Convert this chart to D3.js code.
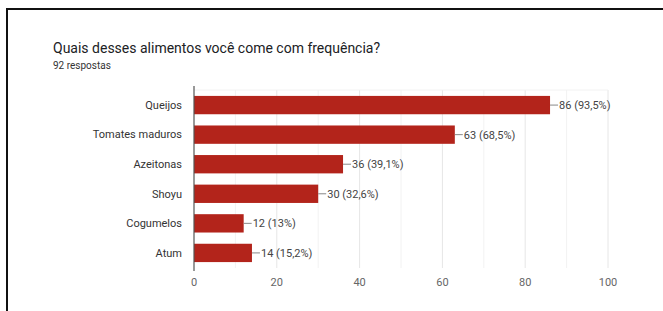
<!DOCTYPE html>
<html>
<head>
<meta charset="utf-8">
<script src="https://cdn.jsdelivr.net/npm/d3@7"></script>
<style>
  body { margin: 0; background: #fff; }
  text { font-family: Roboto, "Noto Sans", sans-serif; }
</style>
</head>
<body>
<div id="chart"></div>
<script>
const width = 663;
const height = 311;

const categories = ["Queijos", "Tomates maduros", "Azeitonas", "Shoyu", "Cogumelos", "Atum"];
const counts = [86, 63, 36, 30, 12, 14];
const percents = ["93,5%", "68,5%", "39,1%", "32,6%", "13%", "15,2%"];
const xTicks = [0, 20, 40, 60, 80, 100];

const margin = { top: 90, right: 55, bottom: 43, left: 194 };

const svg = d3
  .select("#chart")
  .append("svg")
  .attr("width", width)
  .attr("height", height);

// frame (cropped screenshot border)
svg.append("path")
  .attr("d", `M7,${height} L7,9 L${width},9`)
  .attr("fill", "none")
  .attr("stroke", "#111")
  .attr("stroke-width", 2);

// title
svg.append("text")
  .attr("x", 53)
  .attr("y", 53)
  .style("font-size", "14px")
  .attr("fill", "#202124")
  .text("Quais desses alimentos você come com frequência?");

svg.append("text")
  .attr("x", 53)
  .attr("y", 69)
  .style("font-size", "10px")
  .attr("fill", "#333")
  .text("92 respostas");

const x = d3.scaleLinear()
  .domain([0, 100])
  .range([margin.left, width - margin.right]);

const y = d3.scaleBand()
  .domain(categories)
  .range([margin.top, height - margin.bottom])
  .paddingInner(0.38)
  .paddingOuter(0.2);

// gridlines (major + minor)
svg.append("g")
  .selectAll("line")
  .data(d3.range(10, 101, 10))
  .enter()
  .append("line")
  .attr("x1", (d) => x(d))
  .attr("x2", (d) => x(d))
  .attr("y1", margin.top)
  .attr("y2", height - margin.bottom)
  .attr("stroke", (d) => (d % 20 === 0 ? "#e6e6e6" : "#f2f2f2"))
  .attr("stroke-width", 1);

svg.append("line")
  .attr("x1", margin.left)
  .attr("x2", width - margin.right)
  .attr("y1", margin.top)
  .attr("y2", margin.top)
  .attr("stroke", "#f2f2f2");

// bars
const data = categories.map((c, i) => ({ cat: c, value: counts[i], pct: percents[i] }));

svg.append("g")
  .selectAll("rect")
  .data(data)
  .enter()
  .append("rect")
  .attr("x", x(0))
  .attr("y", (d) => y(d.cat))
  .attr("width", (d) => x(d.value) - x(0))
  .attr("height", y.bandwidth())
  .attr("fill", "#b3241b");

// value labels with connector
const lbl = svg.append("g")
  .selectAll("g")
  .data(data)
  .enter()
  .append("g")
  .attr("transform", (d) => `translate(${x(d.value)},${y(d.cat) + y.bandwidth() / 2})`);

lbl.append("line")
  .attr("x1", 0)
  .attr("x2", 8)
  .attr("stroke", "#888")
  .attr("stroke-width", 1);

lbl.append("text")
  .attr("x", 9)
  .attr("dy", "0.35em")
  .style("font-size", "11px")
  .attr("fill", "#444")
  .text((d) => `${d.value} (${d.pct})`);

// category axis
svg.append("g")
  .selectAll("text")
  .data(categories)
  .enter()
  .append("text")
  .attr("x", margin.left - 12)
  .attr("y", (d) => y(d) + y.bandwidth() / 2)
  .attr("dy", "0.35em")
  .attr("text-anchor", "end")
  .style("font-size", "11px")
  .attr("fill", "#333")
  .text((d) => d);

// zero axis line
svg.append("line")
  .attr("x1", x(0))
  .attr("x2", x(0))
  .attr("y1", margin.top - 4)
  .attr("y2", height - margin.bottom + 3)
  .attr("stroke", "#555")
  .attr("stroke-width", 1.2);

// x tick labels
svg.append("g")
  .selectAll("text")
  .data(xTicks)
  .enter()
  .append("text")
  .attr("x", (d) => x(d))
  .attr("y", height - margin.bottom + 14)
  .attr("dy", "0.35em")
  .attr("text-anchor", "middle")
  .style("font-size", "11px")
  .attr("fill", "#666")
  .text((d) => d);
</script>
</body>
</html>
